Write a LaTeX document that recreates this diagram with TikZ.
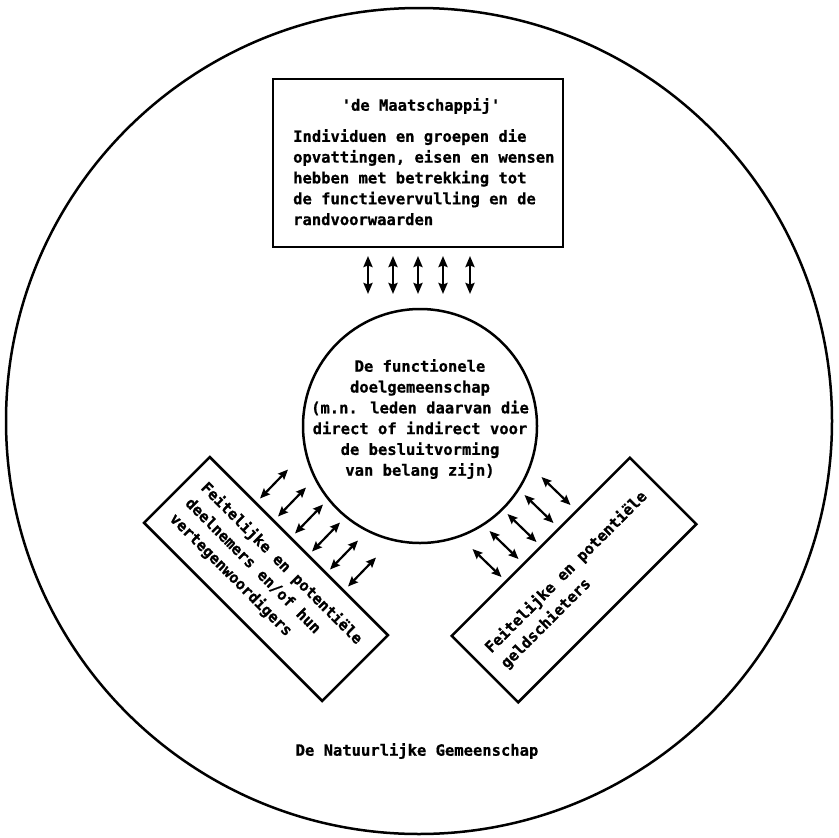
\documentclass[tikz,border=0pt]{standalone}
\usepackage{fontspec}
\newfontfamily\tw[BoldFeatures={FakeBold=0.8}]{DejaVu Sans Mono}
\usetikzlibrary{arrows.meta}
\begin{document}
\begin{tikzpicture}[x=1pt,y=1pt,
  every node/.style={font=\tw\bfseries\fontsize{15.5}{20.8}\selectfont},
  boxtext/.style={font=\tw\bfseries\fontsize{15.3}{22}\selectfont},
  frame/.style={draw, line width=2.5pt, inner sep=0pt},
  vbiarrow/.style={{Stealth[length=11pt,width=9pt,inset=1.5pt]}-{Stealth[length=11pt,width=9pt,inset=1.5pt]}, line width=2.8pt},
  dbiarrow/.style={{Stealth[length=10pt,width=8.5pt,inset=1.5pt]}-{Stealth[length=10pt,width=8.5pt,inset=1.5pt]}, line width=2.2pt},
]
\useasboundingbox (0,0) rectangle (838,-838);
% outer circle
\node[frame, circle, minimum size=826] (world) at (419,-421) {};
\node (nat) at (417,-751) {De Natuurlijke Gemeenschap};
% top box
\node[frame, minimum width=290, minimum height=168] (soc) at (418,-163) {};
\node (soctitle) at (421,-106) {'de Maatschappij'};
\node[anchor=north west, align=left, inner sep=0pt] (socbody) at (293,-129)
  {Individuen en groepen die\\opvattingen, eisen en wensen\\hebben met betrekking tot\\de functievervulling en de\\randvoorwaarden};
% inner circle
\node[frame, circle, minimum size=234] (doel) at (420,-426) {};
\node[align=center] (doeltext) at (420,-419)
  {De functionele\\doelgemeenschap\\(m.n. leden daarvan die\\direct of indirect voor\\de besluitvorming\\van belang zijn)};
% lower boxes
\node[frame, boxtext, rotate=-45, minimum width=252, minimum height=93, align=left] (deeln) at (266,-579)
  {Feitelijke en potentiële\\deelnemers en/of hun\\vertegenwoordigers};
\node[frame, boxtext, rotate=45, minimum width=252, minimum height=94, align=left] (geld) at (574,-580)
  {Feitelijke en potentiële\\geldschieters};
% vertical arrows
\foreach \i/\x in {1/368,2/393,3/418,4/443,5/470} {
  \coordinate (ta\i) at (\x,-256);
  \coordinate (tb\i) at (\x,-294);
  \draw[vbiarrow] (ta\i) -- (tb\i);
}
% left diagonal arrows
\foreach \i/\cx/\cy in {1/274/484,2/292/502,3/309/519,4/326/537,5/344/555,6/362/572} {
  \coordinate (la\i) at (\cx-14,-\cy-14.5);
  \coordinate (lb\i) at (\cx+14,-\cy+14.5);
  \draw[dbiarrow] (la\i) -- (lb\i);
}
% right diagonal arrows
\foreach \i/\cx/\cy in {1/556/491,2/539/509,3/522/528,4/504/545,5/487/563} {
  \coordinate (ra\i) at (\cx-14.5,-\cy+14);
  \coordinate (rb\i) at (\cx+14.5,-\cy-14);
  \draw[dbiarrow] (ra\i) -- (rb\i);
}
\end{tikzpicture}
\end{document}
